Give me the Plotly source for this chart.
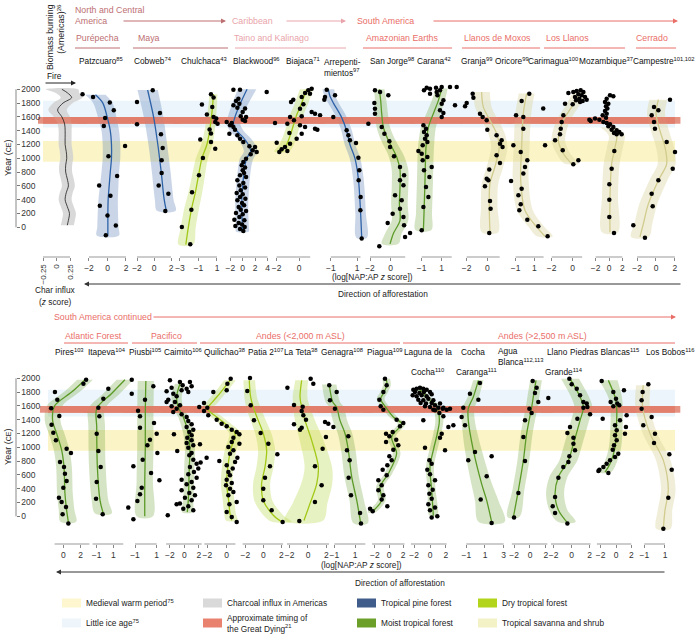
import plotly.graph_objects as go

W, H = 699, 634
FONT = "Liberation Sans, Arial, sans-serif"

# ---------------- data ----------------
# charcoal influx (z score): (year, centre, half-width)
char_curve = [(30, 0.2, 0.12), (100, 0.22, 0.12), (200, 0.24, 0.12), (300, 0.2, 0.12), (400, 0.16, 0.12),
              (500, 0.18, 0.12), (600, 0.22, 0.12), (700, 0.2, 0.12), (800, 0.17, 0.12), (900, 0.17, 0.12),
              (1000, 0.19, 0.12), (1100, 0.18, 0.12), (1200, 0.16, 0.12), (1300, 0.16, 0.12), (1400, 0.16, 0.12),
              (1500, 0.15, 0.13), (1600, 0.1, 0.15), (1700, 0.02, 0.17), (1800, 0.12, 0.18), (1880, 0.28, 0.2),
              (1950, 0.2, 0.22), (2000, 0.1, 0.3)]

# ---- top row sites: points (z score, year), curve (year, centre, half-width)
patz_pts = [(-2.7, 1928), (-1.56, 1889), (0.25, 1807), (0.68, 1696), (-0.26, 1584), (-0.4, 1468), (1.9, 1178),
            (0.1, 1029), (1.04, 743), (-0.9, 604), (0.32, 459), (-0.83, 314), (0, 170), (0.9, 25), (-0.18, -116)]
patz_curve = [(1920, -1.3, 1.1), (1800, -0.5, 1.05), (1600, -0.04, 1.0), (1400, 0.3, 0.95), (1200, 0.43, 0.95),
              (1000, 0.43, 0.95), (800, 0.3, 0.95), (600, 0.18, 1.0), (400, 0.07, 1.05), (200, 0.04, 1.1),
              (0, 0.04, 1.15), (-120, 0.04, 1.2)]

cobweb_pts = [(-0.15, 1986), (-2.0, 1816), (0.7, 1657), (-2.0, 1493), (0.82, 1348), (1.02, 1150), (0.9, 971),
              (0.9, 787), (0.55, 604), (1.69, 488), (1.33, 236)]
cobweb_curve = [(1990, -0.75, 1.2), (1600, -0.05, 1.15), (1200, 0.45, 1.1), (800, 0.85, 1.1), (400, 1.2, 1.1),
                (240, 1.45, 1.1)]

chul_pts = [(0.35, 1928), (0.63, 1880), (-0.63, 1778), (0.49, 1744), (-0.09, 1633), (0.63, 1599), (0.92, 1575),
            (0.81, 1526), (1.06, 1502), (0.2, 1416), (0.35, 1358), (-0.81, 1271), (0.35, 1237), (0.81, 1140),
            (-0.52, 1004), (-0.95, 754), (-1.7, 507), (-1.77, 256), (-2.8, 5), (-1.89, -246)]
chul_curve = [(1930, 0.6, 0.45), (1800, 0.55, 0.45), (1600, 0.4, 0.5), (1400, 0.2, 0.55), (1200, -0.09, 0.6),
              (1000, -0.63, 0.65), (750, -1.0, 0.7), (500, -1.35, 0.75), (250, -1.78, 0.8), (0, -2.1, 0.8),
              (-250, -2.37, 0.8)]

black_pts = [(-1.5, 1995), (-0.43, 1995), (3.87, 1961), (-0.7, 1864), (-1.08, 1831), (-0.54, 1792), (-1.5, 1768),
             (-0.86, 1734), (0.38, 1720), (0, 1671), (-0.32, 1608), (0.54, 1599), (0, 1560), (0.38, 1541),
             (-2.58, 1526), (-1.77, 1512), (-2.04, 1478), (-1.5, 1454), (-1.24, 1415), (-2.15, 1357), (-0.86, 1333),
             (-0.43, 1285), (0.1, 1236), (1.08, 1174), (1.99, 1164), (1.61, 1116), (2.26, 1092), (1.29, 1058),
             (0.54, 995), (0.1, 947), (-0.16, 898), (0.38, 865), (0, 826), (0.22, 787), (-0.43, 753), (0.54, 729),
             (-0.86, 681), (0.1, 642), (-0.54, 604), (0.38, 575), (-0.32, 536), (-0.97, 497), (0, 478),
             (-0.43, 440), (0.43, 415), (-0.86, 391), (-0.1, 353), (0.22, 319), (-0.65, 295), (-0.32, 256),
             (0.54, 237), (-1.08, 208), (0, 188), (-0.54, 150), (-1.34, 111), (0.27, 101), (-0.65, 63),
             (-0.1, 39), (-1.18, 19), (0.32, 5), (-0.43, -24), (0.1, -53)]
black_curve = [(2000, 0.7, 1.5), (1800, -0.35, 1.3), (1600, -1.24, 1.15), (1500, -1.5, 1.1), (1400, -0.97, 1.1),
               (1300, 0.1, 1.1), (1200, 0.9, 1.1), (1100, 1.29, 1.1), (1000, 0.65, 1.1), (900, 0.37, 1.05),
               (600, 0, 1.05), (300, -0.16, 1.05), (0, -0.05, 1.05), (-60, -0.05, 1.05)]

biaj_pts = [(1.13, 2009), (0.83, 1985), (0.54, 1946), (0.98, 1937), (0.24, 1888), (-0.51, 1850), (-0.71, 1816),
            (0.39, 1782), (0.09, 1719), (1.13, 1671), (1.43, 1647), (1.88, 1623), (0.24, 1608), (-0.8, 1599),
            (-0.45, 1550), (-2.14, 1512), (-1.04, 1502), (0.09, 1478), (0.54, 1454), (1.43, 1430), (1.64, 1415),
            (-0.86, 1367), (0.24, 1357), (-0.21, 1285), (-1.99, 1227), (-0.8, 1212), (-1.25, 1164),
            (-1.55, 1130), (-1.04, 1106), (-1.76, 1092)]
biaj_curve = [(2000, 0.68, 0.6), (1900, 0.45, 0.6), (1800, 0.24, 0.6), (1600, -0.27, 0.6), (1400, -0.65, 0.6),
              (1200, -1.1, 0.65), (1100, -1.55, 0.65)]

arrep_pts = [(-1.31, 1995), (-0.68, 1913), (-1.44, 1888), (-1.49, 1850), (-0.81, 1599), (0.2, 1405), (0.33, 1333),
             (0.45, 1261), (0.91, 1222), (1.09, 1009), (1.16, 826), (1.11, 681), (1.26, 440), (1.24, 246),
             (1.34, -164)]
arrep_curve = [(2000, -1.19, 0.45), (1900, -1.06, 0.42), (1800, -0.8, 0.4), (1600, -0.2, 0.4), (1400, 0.2, 0.4),
               (1200, 0.45, 0.4), (1000, 0.83, 0.4), (700, 1.09, 0.4), (200, 1.26, 0.4), (-150, 1.34, 0.4)]

sj_pts = [(-1.52, 1985), (-1.03, 1961), (-0.23, 1913), (-1.58, 1802), (-1.52, 1719), (-1.52, 1647), (-2.16, 1502),
          (-0.87, 1454), (-0.61, 1357), (-0.13, 1246), (-0.06, 1164), (0.32, 1029), (0.9, 874), (1.29, 753),
          (0.9, 681), (1.23, 609), (0.42, 464), (1.06, 391), (0.9, 270), (0.19, 198), (1.23, 150), (-0.29, 63),
          (1.29, 29), (1.87, -82), (1.39, -140), (-1.1, -275)]
sj_curve = [(2000, -1.1, 0.5), (1840, -0.97, 0.55), (1650, -0.87, 0.6), (1450, -0.71, 0.65), (1260, -0.23, 0.7),
            (1020, 0.58, 0.75), (830, 0.9, 0.8), (580, 0.9, 0.8), (340, 0.84, 0.8), (100, 0.9, 0.8),
            (-90, 0.26, 0.8), (-240, -0.06, 0.8)]

carana_pts = [(-0.5, 2024), (-0.17, 2009), (0.43, 2024), (1.0, 2033), (1.83, 2033), (2.5, 2033), (-0.77, 1985),
              (-0.17, 1937), (0.5, 1961), (0.83, 1985), (0.57, 1913), (2.33, 1768), (1.17, 1840), (1.0, 1792),
              (0.83, 1695), (1.17, 1657), (1.0, 1599), (-0.83, 1478), (-0.57, 1430), (-0.77, 1381), (-0.5, 1333),
              (-0.67, 1285), (-0.43, 1236), (-0.9, 1188), (-1.33, 1106), (-1.0, 1067), (-0.43, 1019), (-0.9, 971),
              (0, 874), (-0.77, 826), (-0.23, 729), (-0.57, 584), (-0.33, 440), (-0.83, 295), (-1.0, -43)]
carana_curve = [(2010, 1.0, 0.6), (1840, 0.67, 0.65), (1650, 0.17, 0.7), (1450, -0.33, 0.75), (1160, -0.57, 0.8),
                (680, -0.67, 0.8), (200, -0.77, 0.8), (-40, -0.83, 0.8)]

granja_pts = [(-1.42, 1937), (-1.35, 1879), (-2.0, 1802), (-2.16, 1753), (-0.71, 1647), (-0.45, 1599), (-0.06, 1550),
              (0, 1415), (0.9, 1333), (1.39, 1261), (1.23, 1212), (1.48, 1164), (0.9, 1043), (1.23, 932),
              (0.19, 836), (-0.06, 705), (0.1, 681), (-0.23, 594), (0.26, 382), (0.32, 270), (0.19, -82)]
granja_curve = [(1960, -0.55, 0.8), (1745, -0.39, 0.8), (1550, 0.26, 0.8), (1360, 0.9, 0.8), (1165, 1.16, 0.8),
                (875, 0.74, 0.8), (635, 0.26, 0.8), (295, 0.19, 0.8), (-70, 0.26, 0.8)]

oric_pts = [(0.46, 1937), (-0.36, 1831), (1.96, 1720), (-0.96, 1623), (-0.18, 1599), (-0.18, 1430), (-1.25, 1188),
            (-0.46, 1092), (0.25, 971), (0, 874), (-0.18, 778), (-1.5, 671), (-0.36, 560), (-0.71, 464),
            (-0.46, 333), (-0.61, 246), (0.25, 111), (1.43, 14), (2.43, -130)]
oric_curve = [(1940, 0.18, 0.85), (1650, -0.18, 0.85), (1165, -0.36, 0.85), (680, -0.46, 0.85), (245, 0, 0.85),
              (5, 1.25, 0.85), (-130, 2.14, 0.85)]

carim_pts = [(-0.41, 1947), (0.06, 1961), (0.38, 1975), (0.76, 1985), (1.02, 1961), (0.54, 1927), (0.86, 1913),
             (0.22, 1888), (1.17, 1888), (0.63, 1864), (0.32, 1840), (0.95, 1831), (1.33, 1850), (0.7, 1816),
             (-0.73, 1792), (0, 1782), (-0.89, 1623), (-1.05, 1526), (-1.14, 1430), (-1.21, 1348), (-1.68, 1261),
             (-2.63, 1188), (-0.95, 1116), (0.54, 971), (0.06, 913)]
carim_curve = [(1960, 0.7, 0.65), (1745, -0.1, 0.65), (1550, -0.89, 0.65), (1260, -1.37, 0.65), (1070, -0.89, 0.65),
               (920, -0.1, 0.65)]

moz_pts = [(0.15, 1913), (0.65, 1898), (-0.35, 1864), (-0.6, 1816), (-0.1, 1792), (-0.45, 1753), (-0.25, 1720),
           (-0.6, 1686), (-0.35, 1647), (-0.95, 1623), (-0.45, 1589), (-2.1, 1575), (-2.95, 1560), (-2.75, 1541),
           (-1.45, 1560), (-0.85, 1526), (-0.35, 1512), (0.15, 1492), (-0.1, 1464), (0.65, 1454), (0.4, 1415),
           (1.15, 1405), (0.75, 1367), (1.55, 1381), (1.9, 1348), (1.15, 1348), (0.8, 1106), (0.4, 850),
           (0.05, 623), (0.05, 401), (0.05, 150), (0.75, -82)]
moz_curve = [(1450, -0.1, 1.2), (1330, 1.15, 1.2), (1160, 0.9, 1.2), (920, 0.4, 1.2), (440, 0.15, 1.2),
             (-70, 0.15, 1.2)]

camp_pts = [(1.48, 1850), (-0.21, 1744), (0.25, 1695), (-0.46, 1623), (-0.21, 1526), (-0.11, 1430), (1.13, 1236),
            (2.01, 1092), (1.77, 850), (0.25, 681), (-0.46, 488), (-0.35, 304), (-2.4, 29), (-1.17, -150)]
camp_curve = [(1850, 0.25, 0.95), (1650, 0, 0.95), (1400, 0.42, 0.95), (1160, 0.95, 0.95), (920, 1.13, 0.95),
              (680, 0.25, 0.95), (340, -0.81, 0.95), (50, -1.34, 0.95), (-140, -1.7, 0.95)]

# ---- bottom row sites
pires_pts = [(2.62, 1980), (2.31, 1922), (-0.96, 1802), (-0.69, 1690), (-1.4, 1565), (-0.46, 1454), (-1.35, 1328),
             (-1.15, 1212), (-0.85, 1101), (0.38, 980), (0.88, 918), (-0.38, 787), (0.08, 715), (0.19, 618),
             (0.38, 512), (0, 415), (-0.5, 270), (-0.19, 208), (0.31, 135), (-0.08, 29), (0.58, -106)]
pires_curve = [(1980, 2.5, 0.9), (1800, 0.96, 0.9), (1600, -1.0, 0.9), (1390, -1.23, 0.9), (1200, -0.77, 0.9),
               (960, -0.19, 0.9), (715, 0.08, 0.9), (330, 0.19, 0.9), (90, 0.38, 0.9), (-80, 0.58, 0.9)]

itap_pts = [(0.4, 1850), (-0.2, 1705), (-0.8, 1575), (-0.68, 1449), (-1.0, 1198), (-0.8, 947), (-0.52, 715),
            (-1.0, 497), (-1.08, 256), (-0.28, 29)]
itap_curve = [(1980, 2.4, 1.0), (1780, 0.8, 1.0), (1560, -1.0, 1.0), (1300, -1.0, 1.0), (715, -0.92, 1.0),
              (230, -0.6, 1.0), (40, -0.2, 1.0)]

piusbi_pts = [(-1.3, 1980), (0.69, 1884), (-1.3, 1777), (-0.08, 1690), (-0.72, 1530), (-0.54, 1449), (0.75, 1352),
              (-0.54, 1285), (1.0, 1198), (0.38, 1111), (0.14, 1029), (1.06, 918), (-0.29, 821), (-1.15, 725),
              (0.48, 628), (1.25, 522), (-0.38, 415), (-0.54, 319), (-0.78, 222), (-1.62, 126), (-1.15, -43),
              (2.02, 14)]
piusbi_curve = [(1960, 0, 0.75), (1500, -0.05, 0.75), (1000, -0.05, 0.75), (500, -0.1, 0.75), (0, -0.1, 0.75)]

caim_pts = [(-1.98, 1971), (-0.6, 1946), (0.78, 1946), (-0.23, 1898), (-1.75, 1864), (-2.44, 1811), (-1.52, 1777),
            (-0.37, 1826), (0.32, 1850), (1.01, 1884), (0.55, 1802), (-1.06, 1739), (-2.21, 1690), (-1.29, 1657),
            (-0.6, 1608), (-1.75, 1594), (-2.44, 1657), (-1.06, 1560), (-1.52, 1512), (-0.37, 1478), (0.32, 1439),
            (-1.43, 1188), (0.55, 1381), (1.01, 1333), (0.32, 1294), (1.24, 1256), (0.69, 1222), (1.01, 1174),
            (0.41, 1140), (1.01, 1101), (0.32, 1063), (1.24, 1029), (0.55, 995), (-0.97, 947), (1.01, 918),
            (0.69, 884), (2.16, 1043), (1.24, 821), (1.7, 763), (0.78, 715), (1.93, 691), (1.33, 642), (0.55, 609),
            (1.7, 560), (-0.37, 531), (1.01, 497), (0.32, 464), (1.24, 415), (-0.37, 377), (0.69, 338),
            (1.47, 304), (0.09, 270), (1.01, 232), (-0.6, 184), (0.55, 145), (-0.14, 111), (1.24, 87),
            (-1.06, 174)]
caim_curve = [(1920, -0.6, 0.7), (1730, -1.06, 0.7), (1580, -0.83, 0.7), (1440, -0.14, 0.7), (1200, 0.55, 0.7),
              (960, 0.78, 0.7), (715, 0.69, 0.7), (230, 0.55, 0.7), (60, 0.41, 0.7)]

quil_pts = [(0.41, 1995), (0.07, 1922), (-1.38, 1802), (0, 1826), (-2.34, 1642), (-2.0, 1575), (-2.83, 1584),
            (-2.34, 1526), (-1.9, 1464), (-1.03, 1401), (-0.52, 1343), (0, 1304), (0.52, 1256), (1.03, 1222),
            (1.31, 1188), (0.69, 1140), (0.52, 1077), (1.31, 1053), (0.17, 1005), (0.69, 956), (0.34, 908),
            (1.1, 850), (0.86, 787), (0, 739), (0.62, 691), (0.17, 642), (0.34, 594), (0, 531), (0.52, 483),
            (-0.07, 449), (0.34, 401), (0.69, 353), (0.17, 304), (1.03, 208), (0.28, 174), (0, 63), (0.52, -10),
            (1.03, -82), (-2.07, 850), (-2.69, 778), (-0.76, 802)]
quil_curve = [(1970, 0.34, 0.6), (1800, -0.6, 0.6), (1650, -1.5, 0.6), (1560, -2.0, 0.6), (1440, -1.03, 0.6),
              (1300, 0.2, 0.6), (1200, 0.86, 0.6), (960, 0.4, 0.6), (700, 0.1, 0.6), (470, 0, 0.6),
              (230, 0.2, 0.6), (40, 0.34, 0.6), (-60, 0.52, 0.6)]

patia_pts = [(-1.48, 2005), (-1.78, 1816), (-1.4, 1610), (-1.04, 1391), (-0.3, 1208), (0.56, 1053), (1.56, 898),
             (0.74, 725), (0.19, 560), (0, 401), (0, 232), (0.93, 87), (2.15, -82)]
patia_curve = [(1970, -1.56, 0.65), (1730, -1.41, 0.7), (1580, -1.11, 0.8), (1390, -0.56, 0.85), (1200, 0, 0.9),
               (960, 0.37, 0.95), (715, 0.19, 0.95), (470, -0.19, 0.95), (230, 0, 1.0), (15, 1.11, 1.1),
               (-80, 2.04, 1.1)]

lateta_pts = [(0.29, 1995), (0.58, 1922), (-2.25, 1864), (-1.53, 1613), (-0.58, 1589), (-0.69, 1526), (-0.51, 1464),
              (-0.22, 1401), (-1.53, 1333), (-0.69, 1285), (-0.87, 1256), (2.22, 1343), (1.96, 1150), (1.6, 980),
              (0.76, 725), (1.49, 449), (0.76, 208), (-0.95, -68)]
lateta_curve = [(1970, -0.69, 0.7), (1730, -0.87, 0.8), (1580, -0.69, 0.9), (1390, -0.33, 1.1), (1100, 0.4, 1.3),
                (715, 1.13, 1.5), (470, 0.95, 1.7), (185, 0.22, 1.9), (-60, -0.44, 2.1)]

genagra_pts = [(-1.5, 1898), (-0.78, 1802), (-1.43, 1681), (-0.95, 1560), (-1.91, 1367), (-1.1, 1294), (0.35, 1159),
               (0.22, 956), (0.48, 811), (0.38, 560), (0.61, 304), (1.49, 48), (1.58, -106)]
genagra_curve = [(1910, -1.5, 0.7), (1660, -1.17, 0.7), (1580, -0.78, 0.7), (1390, -0.46, 0.7), (1200, 0.03, 0.7),
                 (960, 0.35, 0.7), (570, 0.68, 0.7), (230, 1.17, 0.7), (-100, 1.55, 0.7)]

piagua_pts = [(-0.57, 1995), (-0.33, 1898), (-0.8, 1802), (-1.37, 1690), (-1.18, 1594), (-0.8, 1546), (1.08, 1401),
              (2.03, 1352), (1.56, 1304), (0.52, 1222), (-0.42, 1198), (0.05, 1159), (1.03, 1111), (-0.42, 1077),
              (1.32, 1029), (0.61, 966), (0.05, 869), (0.38, 811), (-0.24, 739), (-0.9, 676), (-0.33, 594),
              (-1.51, 522), (-1.04, 449), (-1.51, 377), (-0.8, 304), (-1.04, 242), (-0.24, 145), (-2.69, 111),
              (-2.31, 72)]
piagua_curve = [(1995, -0.4, 0.55), (1900, -0.3, 0.55), (1800, -0.7, 0.55), (1700, -1.2, 0.55), (1600, -0.6, 0.55),
                (1440, 0.61, 0.55), (1340, 1.79, 0.55), (1150, 0.38, 0.55), (910, 1.08, 0.55), (620, -0.09, 0.55),
                (425, -1.27, 0.55), (230, -1.04, 0.55), (60, -2.45, 0.55)]

cocha_pts = [(-2.1, 1835), (-1.68, 1850), (-1.26, 1864), (-0.84, 1850), (-0.42, 1835), (-1.89, 1802), (-1.34, 1787),
             (-0.76, 1802), (0, 1802), (-2.18, 1753), (-1.68, 1739), (-1.05, 1753), (-0.42, 1739), (0.21, 1768),
             (-1.47, 1690), (-0.84, 1681), (-0.21, 1705), (0.42, 1681), (-1.18, 1642), (-0.5, 1633), (0.21, 1642),
             (-0.63, 1594), (0, 1584), (0.63, 1608), (1.05, 1575), (1.6, 1560), (0.42, 1546), (2.1, 1546),
             (1.26, 1633), (1.68, 1575), (2.52, 1560), (0.63, 1536), (1.18, 1497), (1.68, 1449), (2.94, 1319),
             (2.31, 1294), (-0.84, 1391), (1.47, 1198), (1.26, 1140), (1.89, 956), (-0.63, 995), (-0.08, 811),
             (0.21, 763), (-0.34, 676), (0, 609), (0.63, 522), (-0.21, 449), (0.34, 386), (-0.08, 328),
             (0.21, 256), (-0.21, 174), (0.63, 126), (0.92, 0), (0.21, -19), (0, 87)]
cocha_curve = [(1860, -1.47, 0.5), (1680, 0, 0.5), (1580, 0.88, 0.5), (1390, 1.18, 0.5), (1200, 0.92, 0.5),
               (960, 0.42, 0.5), (715, 0, 0.5), (380, 0.21, 0.5), (10, 0.42, 0.5)]

caranga_pts = [(0.46, 1932), (-0.61, 1777), (0.29, 1690), (-1.32, 1575), (-1.5, 1439), (-1.14, 1319), (-0.07, 932),
               (-0.79, 811), (1.71, 869), (1.18, 580), (0.54, 242), (1.71, -96)]
caranga_curve = [(1970, 0.29, 0.55), (1730, -0.25, 0.6), (1560, -0.79, 0.65), (1390, -0.79, 0.7), (960, -0.25, 0.9),
                 (470, 0.64, 1.1), (230, 1.18, 1.25), (-80, 1.71, 1.4)]

agua_pts = [(0.34, 1961), (0.84, 1864), (0.63, 1787), (2.32, 1715), (1.05, 1657), (-0.08, 1560), (0.21, 1497),
            (-0.63, 1391), (-0.84, 1150), (-0.63, 802), (-1.47, 338), (-2.02, -19)]
agua_curve = [(1970, 0.76, 0.75), (1730, 0.42, 0.75), (1580, 0.21, 0.75), (1200, -0.42, 0.75), (810, -0.84, 0.75),
              (380, -1.47, 0.75), (-10, -2.1, 0.75)]

llano_pts = [(-0.26, 1995), (0, 1913), (0.56, 1850), (0.93, 1753), (1.3, 1657), (1.74, 1584), (1.67, 1633),
             (2.04, 1478), (1.3, 1575), (0.63, 1415), (-0.19, 1294), (-0.48, 1208), (0.19, 1140), (0.19, 1053),
             (0.37, 956), (-0.26, 869), (-0.37, 787), (-0.93, 715), (-1.48, 560), (-1.85, 280), (-2.11, 145),
             (-1.85, 48), (-0.48, -106)]
llano_curve = [(1995, -0.19, 1.0), (1730, 0.93, 1.0), (1580, 1.3, 1.0), (1390, 0.93, 1.0), (1050, 0.19, 1.0),
               (810, -0.37, 1.0), (570, -1.48, 1.0), (330, -1.85, 1.0), (90, -1.48, 1.0), (-80, -0.56, 1.0)]

piedras_pts = [(-1.87, 1961), (-0.35, 1802), (1.04, 1826), (0, 1705), (0.17, 1633), (-0.35, 1594), (-0.7, 1657),
               (0.43, 1608), (1.39, 1464), (-1.74, 1415), (0.52, 1391), (-0.13, 1319), (1.3, 1294), (0.09, 1246),
               (-0.13, 1174), (1.17, 1198), (0.09, 1101), (-0.26, 1029), (-0.43, 966), (0.3, 908), (-0.13, 860),
               (-0.78, 811), (-1.22, 763), (-1.65, 715), (-2.17, 676), (-1.0, 628), (-2.3, 657)]
piedras_curve = [(1970, -1.0, 1.2), (1730, -0.13, 0.9), (1580, 0.09, 0.8), (1390, 0.09, 0.8), (1000, -0.13, 0.8),
                 (760, -0.78, 0.8), (640, -1.43, 0.8)]

bobos_pts = [(-0.61, 1913), (-1.16, 1802), (-1.26, 1681), (-1.26, 1560), (-0.29, 1439), (-1.1, 1319), (0.03, 1198),
             (-0.06, 1063), (1.42, 898), (1.65, 676), (1.32, 270), (0.84, -179)]
bobos_curve = [(1900, -1.1, 0.7), (1580, -1.16, 0.7), (1200, -0.45, 0.7), (810, 0.84, 0.7), (380, 1.32, 0.7),
               (90, 1.0, 0.7), (-180, 0.84, 0.7)]

# climate bands (years CE)
lia_years = (1445, 1835)
mwp_years = (950, 1250)
dying_years = (1500, 1600)

# ---------------- layout tables ----------------
kinds = {
    'char': dict(line='#1a1a1a', fill='rgba(208,208,208,0.8)', lw=0.8),
    'pine': dict(line='#2e62a8', fill='rgba(100,136,186,0.34)', lw=1.3),
    'dry': dict(line='#a2c818', fill='rgba(180,214,64,0.32)', lw=1.3),
    'moist': dict(line='#5c9a28', fill='rgba(112,165,60,0.30)', lw=1.3),
    'sav': dict(line='#d1cb8e', fill='rgba(218,212,158,0.40)', lw=1.3),
}

# (row, kind, points, curve, tick values, px of first tick, px of last tick, axis line extent)
panels = [
    (0, 'char', [], char_curve, [-0.25, 0, 0.25], 43, 70, (-0.25, 0.25)),
    (0, 'pine', patz_pts, patz_curve, [-2, 0, 2], 89, 126, (-2, 2)),
    (0, 'pine', cobweb_pts, cobweb_curve, [-2, 0, 2], 137, 171, (-2, 2)),
    (0, 'dry', chul_pts, chul_curve, [-3, -1, 1], 180, 217, (-3, 1)),
    (0, 'pine', black_pts, black_curve, [-2, 0, 2, 4], 230.3, 267.5, (-2, 4)),
    (0, 'dry', biaj_pts, biaj_curve, [-2, 0], 276.6, 299, (-2, 1)),
    (0, 'pine', arrep_pts, arrep_curve, [-1, 1], 330.8, 357.2, (-1, 1.25)),
    (0, 'moist', sj_pts, sj_curve, [-2, 0], 370, 390.7, (-2, 1.4)),
    (0, 'moist', carana_pts, carana_curve, [-1, 1], 421.7, 441.7, (-1, 2)),
    (0, 'sav', granja_pts, granja_curve, [-2, 0], 466.7, 487.3, (-2, 1.2)),
    (0, 'sav', oric_pts, oric_curve, [-1, 1], 515.7, 534.3, (-1, 2)),
    (0, 'sav', carim_pts, carim_curve, [-2, 0], 551.7, 572.7, (-2, 0.9)),
    (0, 'sav', moz_pts, moz_curve, [-2, 0, 2], 595.7, 622.3, (-2, 2)),
    (0, 'sav', camp_pts, camp_curve, [-2, 0, 2], 637.1, 674.9, (-2, 2)),
    (1, 'moist', pires_pts, pires_curve, [0, 2], 63.3, 80.7, (-1, 3)),
    (1, 'moist', itap_pts, itap_curve, [-1, 1], 96.7, 113.3, (-1.5, 2.2)),
    (1, 'moist', piusbi_pts, piusbi_curve, [-1, 1], 135, 156.7, (-1, 1)),
    (1, 'moist', caim_pts, caim_curve, [-2, 0, 2], 169.8, 198.8, (-2.5, 2.4)),
    (1, 'dry', quil_pts, quil_curve, [-2, 0], 207.3, 226.7, (-2.3, 0.9)),
    (1, 'dry', patia_pts, patia_curve, [-2, 0, 2], 245.3, 281.3, (-2.3, 2.2)),
    (1, 'dry', lateta_pts, lateta_curve, [-2, 0, 2], 289.7, 326.3, (-2.3, 2.3)),
    (1, 'moist', genagra_pts, genagra_curve, [-1, 1], 334.4, 355, (-1, 2)),
    (1, 'moist', piagua_pts, piagua_curve, [-2, 0, 2], 374.9, 403.1, (-2.4, 2.2)),
    (1, 'moist', cocha_pts, cocha_curve, [-2, 0, 2], 414.1, 445.9, (-2.4, 2.1)),
    (1, 'moist', caranga_pts, caranga_curve, [-1, 1, 3], 466.3, 503.7, (-1, 3)),
    (1, 'moist', agua_pts, agua_curve, [-2, 0, 2], 514.2, 545.8, (-2.3, 2.2)),
    (1, 'moist', llano_pts, llano_curve, [-2, 0, 2], 553.7, 589.7, (-2.3, 2.1)),
    (1, 'moist', piedras_pts, piedras_curve, [-2, 0, 2], 600.7, 631.3, (-2.5, 2)),
    (1, 'sav', bobos_pts, bobos_curve, [-1, 1], 644.3, 665, (-1, 1)),
]

# rows: (pixel of year 2000, pixel of year 0, pixel of top of plot, pixel of axis line)
rows = [(89.3, 227.3, 76, 257), (378.3, 516.3, 366, 544)]

TICK = 8.5
LAB = 8.3
HEAD = 8.8

fig = go.Figure()
layout = {}
shapes = []
anns = []


def py2p(py):
    return 1 - py / H


def tick_label(v):
    if v == 0:
        return "0"
    s = f"{abs(v):g}"
    return ("\u2212" + s) if v < 0 else s


# y axes
for r, (p2000, p0, ptop, pbot) in enumerate(rows):
    k = p0 - p2000
    yr_top = (p0 - ptop) / k * 2000
    yr_bot = (p0 - pbot) / k * 2000
    name = 'yaxis' if r == 0 else 'yaxis2'
    layout[name] = dict(domain=[py2p(pbot), py2p(ptop)], range=[yr_bot, yr_top], anchor='free',
                        position=16 / W, side='left', tickvals=list(range(0, 2001, 200)),
                        ticks='inside', ticklen=3, tickcolor='#777', ticklabelposition='inside',
                        showgrid=False, zeroline=False, showline=False, fixedrange=True,
                        tickfont=dict(size=TICK, color='#333', family=FONT))
    yref = 'y' if r == 0 else 'y2'
    shapes.append(dict(type='line', xref='paper', yref=yref, x0=16 / W, x1=16 / W, y0=0, y1=2000,
                       line=dict(color='#888', width=1)))
    x0b = 43 if r == 0 else 48
    for (a, b_), col in [(lia_years, '#ecf5fb'), (mwp_years, '#fbf4c6'), (dying_years, '#e07f6c')]:
        shapes.append(dict(type='rect', xref='paper', yref=yref, x0=x0b / W, x1=675 / W, y0=a, y1=b_,
                           fillcolor=col, line=dict(width=0), layer='below'))

for i, (row, kind, pts, curve, ticks, pxa, pxb, lext) in enumerate(panels):
    idx = i + 1
    xa = 'x' if idx == 1 else f'x{idx}'
    ya = 'y' if row == 0 else 'y2'
    b = (pxb - pxa) / (ticks[-1] - ticks[0])
    p0 = pxa - b * ticks[0]
    st = kinds[kind]
    ys = [c[0] for c in curve]
    xc = [c[1] for c in curve]
    lo = [c[1] - c[2] for c in curve]
    hi = [c[1] + c[2] for c in curve]
    vals = lo + hi + [p[0] for p in pts] + list(lext)
    pmin = p0 + b * min(vals) - 5
    pmax = p0 + b * max(vals) + 5
    rmin, rmax = (pmin - p0) / b, (pmax - p0) / b
    fig.add_trace(go.Scatter(x=lo + hi[::-1], y=ys + ys[::-1], fill='toself', fillcolor=st['fill'],
                             mode='lines', line=dict(width=0, shape='spline', smoothing=0.9),
                             xaxis=xa, yaxis=ya, hoverinfo='skip'))
    # Great Dying band drawn over the envelope (as in the reference)
    fig.add_trace(go.Scatter(x=[rmin, rmax, rmax, rmin], y=[dying_years[0], dying_years[0],
                                                            dying_years[1], dying_years[1]],
                             fill='toself', fillcolor='rgba(224,127,108,0.85)', mode='lines',
                             line=dict(width=0), xaxis=xa, yaxis=ya, hoverinfo='skip'))
    fig.add_trace(go.Scatter(x=xc, y=ys, mode='lines', line=dict(color=st['line'], width=st['lw'],
                                                                  shape='spline', smoothing=0.9),
                             xaxis=xa, yaxis=ya, hoverinfo='skip'))
    if pts:
        fig.add_trace(go.Scatter(x=[p[0] for p in pts], y=[p[1] for p in pts], mode='markers',
                                 marker=dict(color='black', size=4.5, line=dict(width=0)),
                                 xaxis=xa, yaxis=ya, hoverinfo='skip', cliponaxis=False))
    name = 'xaxis' if idx == 1 else f'xaxis{idx}'
    layout[name] = dict(domain=[pmin / W, pmax / W], range=[rmin, rmax], anchor=ya,
                        tickvals=ticks, ticktext=[tick_label(t) for t in ticks],
                        ticks='outside', ticklen=3, tickcolor='#888', showgrid=False, zeroline=False,
                        showline=False, fixedrange=True,
                        tickangle=-90 if kind == 'char' else 0,
                        tickfont=dict(size=TICK if kind != 'char' else 8, color='#333', family=FONT))
    ybot = py2p(rows[row][3])
    shapes.append(dict(type='line', xref=xa, yref='paper', x0=lext[0], x1=lext[1], y0=ybot, y1=ybot,
                       line=dict(color='#999', width=1)))


def txt(s, x, y, size=LAB, color='#222', xanchor='left', angle=0, align='left', yanchor='middle'):
    anns.append(dict(text=s, x=x / W, y=py2p(y), xref='paper', yref='paper', showarrow=False,
                     xanchor=xanchor, yanchor=yanchor, textangle=angle, align=align,
                     font=dict(size=size, color=color, family=FONT), borderpad=0))


def arrow(x0, y0, x1, y1, color, width=1):
    anns.append(dict(text='', x=x1 / W, y=py2p(y1), xref='paper', yref='paper', showarrow=True,
                     ax=x0 - x1, ay=y0 - y1, axref='pixel', ayref='pixel', arrowhead=2, arrowsize=1,
                     arrowwidth=width, arrowcolor=color, standoff=0, startstandoff=0))


def hline(x0, x1, y, color, width=1):
    shapes.append(dict(type='line', xref='paper', yref='paper', x0=x0 / W, x1=x1 / W, y0=py2p(y), y1=py2p(y),
                       line=dict(color=color, width=width)))


NCA = '#bd6f72'
CAR = '#e9a4ab'
SAM = '#ea6e68'

# header, top row
txt("Biomass burning<br>(Americas)<sup>26</sup>", 56, 37, size=HEAD, angle=-90, xanchor='center', align='right')
txt("North and Central<br>America", 74, 16, size=HEAD, color=NCA)
arrow(122, 21, 226, 21, NCA)
txt("Caribbean", 231, 21, size=HEAD, color=CAR)
arrow(285, 21, 346, 21, CAR)
txt("South America", 356, 21, size=HEAD, color=SAM)
arrow(432, 21, 678, 21, SAM)

for s, x, x0, x1, col in [("Purépecha", 75, 75, 120, NCA), ("Maya", 137, 133, 228, NCA),
                          ("Taino and Kalinago", 233, 235, 346, CAR), ("Amazonian Earths", 365, 363, 452, SAM),
                          ("Llanos de Moxos", 463, 462, 540, SAM), ("Los Llanos", 545, 544, 625, SAM),
                          ("Cerrado", 635, 636, 676, SAM)]:
    txt(s, x, 38, size=HEAD, color=col)
    hline(x0, x1, 48, col)

for s, x in [("Patzcuaro<sup>85</sup>", 78), ("Cobweb<sup>74</sup>", 133), ("Chulchaca<sup>43</sup>", 180),
             ("Blackwood<sup>96</sup>", 232), ("Biajaca<sup>71</sup>", 285), ("San Jorge<sup>98</sup>", 369),
             ("Carana<sup>42</sup>", 416), ("Granja<sup>99</sup>", 460), ("Oricore<sup>99</sup>", 494),
             ("Carimagua<sup>100</sup>", 527), ("Mozambique<sup>37</sup>", 578),
             ("Campestre<sup>101,102</sup>", 632)]:
    txt(s, x, 61, color='#111')
txt("Arrepenti-<br>mientos<sup>97</sup>", 323, 67, color='#111')

txt("Fire", 54, 76, color='#111', xanchor='center')
arrow(44, 83, 76, 83, '#222')
txt("Year (<span style='font-size:7px'>CE</span>)", 8, 158, size=9, angle=-90, xanchor='center')
txt("Year (<span style='font-size:7px'>CE</span>)", 8, 447, size=9, angle=-90, xanchor='center')

# below top axes
txt("(log[NAP:AP <i>z</i> score])", 372, 277, xanchor='center')
arrow(682, 284, 84, 284, '#333')
txt("Direction of afforestation", 383, 294, xanchor='center')
txt("Char influx", 55, 290, xanchor='center')
txt("(<i>z</i> score)", 55, 302, xanchor='center')

# header, bottom row
txt("South America continued", 53, 317, size=HEAD, color=SAM)
arrow(152, 317, 676, 317, SAM)
for s, x, x0, x1 in [("Atlantic Forest", 64, 64, 128), ("Pacifico", 150, 132, 197),
                     ("Andes (&lt;2,000 m ASL)", 255, 200, 400), ("Andes (&gt;2,500 m ASL)", 497, 403, 675)]:
    txt(s, x, 336, size=HEAD, color=SAM)
    hline(x0, x1, 343, SAM)

for s, x, y in [("Pires<sup>103</sup>", 54, 352), ("Itapeva<sup>104</sup>", 87, 352), ("Piusbi<sup>105</sup>", 128, 352),
                ("Caimito<sup>106</sup>", 163, 352), ("Quilichao<sup>38</sup>", 203, 352),
                ("Patia 2<sup>107</sup>", 247, 352), ("La Teta<sup>38</sup>", 283, 352),
                ("Genagra<sup>108</sup>", 320, 352), ("Piagua<sup>109</sup>", 366, 352),
                ("Laguna de la", 403, 352), ("Cocha<sup>110</sup>", 410, 372),
                ("Cocha", 460, 352), ("Caranga<sup>111</sup>", 455, 372),
                ("Agua", 497, 351), ("Blanca<sup>112,113</sup>", 497, 362),
                ("Llano", 546, 352), ("Grande<sup>114</sup>", 544, 372),
                ("Piedras Blancas<sup>115</sup>", 569, 352), ("Los Bobos<sup>116</sup>", 645, 352)]:
    txt(s, x, y, color='#111')

# below bottom axes
txt("(log[NAP:AP <i>z</i> score])", 361, 565, xanchor='center')
arrow(666, 572, 56, 572, '#333')
txt("Direction of afforestation", 400, 583, xanchor='center')

# legend
legend_items = [
    (62, 603, '#fdf6cf', "Medieval warm period<sup>75</sup>"),
    (203, 603, '#d9d9d9', "Charcoal influx in Americas"),
    (357, 603, '#3f5c8a', "Tropical pine forest"),
    (478, 603, '#b2d41a', "Dry tropical forest"),
    (62, 623, '#eef5fb', "Little ice age<sup>75</sup>"),
    (203, 623, '#e8816e', "Approximate timing of<br>the Great Dying<sup>21</sup>"),
    (357, 623, '#6b9f2a', "Moist tropical forest"),
    (478, 623, '#f3f2c6', "Tropical savanna and shrub"),
]
for x, y, col, lab in legend_items:
    shapes.append(dict(type='rect', xref='paper', yref='paper', x0=x / W, x1=(x + 19) / W,
                       y0=py2p(y + 4.5), y1=py2p(y - 4.5), fillcolor=col, line=dict(width=0)))
    txt(lab, x + 23, y, color='#222')

fig.update_layout(**layout)
fig.update_layout(width=W, height=H, margin=dict(l=0, r=0, t=0, b=0), showlegend=False,
                  paper_bgcolor='white', plot_bgcolor='rgba(0,0,0,0)', hovermode=False,
                  shapes=shapes, annotations=anns, font=dict(family=FONT, size=10))

fig.write_html("out.html", config={'displayModeBar': False, 'staticPlot': True},
               post_script="document.body.style.margin='0px';document.body.style.overflow='hidden';")
